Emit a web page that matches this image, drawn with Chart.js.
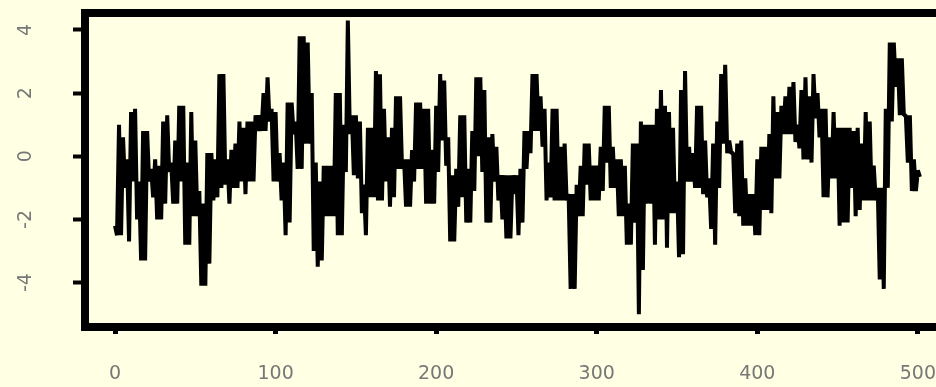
<!DOCTYPE html>
<html>
<head>
<meta charset="utf-8">
<script src="https://cdn.jsdelivr.net/npm/chart.js@4/dist/chart.umd.min.js"></script>
<style>
    html, body { margin: 0; padding: 0; overflow: hidden; background: #FFFFE4; }
    canvas { display: block; }
</style>
</head>
<body>
<canvas id="series" width="960" height="387"></canvas>
<script>
// values: high then low of the trace in each screen column
// (a column is 2.5 steps of the index wide, so two readings per column)
const seriesValues = [
    -2.2, -2.5, 1.0, -2.5, 0.6, -1.0, -0.1, -2.7, 1.4, -0.8,
    1.5, -2.0, -0.8, -3.3, 0.8, -3.3, 0.8, -0.8, -0.4, -1.3,
    -0.1, -2.0, -0.3, -2.0, 1.1, -1.5, 1.3, -0.5, -0.2, -1.5,
    0.5, -1.5, 1.6, -0.8, 1.6, -2.8, -0.2, -2.8, 1.4, -1.9,
    0.5, -1.9, -1.1, -4.1, -1.5, -4.1, 0.1, -3.4, 0.1, -1.4,
    -0.1, -1.3, 2.6, -1.0, 2.6, -0.9, -0.1, -1.5, 0.2, -1.0,
    0.4, -1.0, 1.1, -0.8, 0.9, -1.2, 1.1, -0.8, 1.1, -0.8,
    1.3, 0.8, 1.3, 0.8, 2.0, 0.8, 2.5, 1.1, 1.5, -0.8,
    1.4, -0.8, 0.1, -1.4, -0.2, -2.5, 1.7, -2.1, 1.7, 0.7,
    1.1, -0.4, 3.8, -0.4, 3.8, 0.4, 3.6, 0.4, 2.0, -3.0,
    -0.2, -3.5, -0.8, -3.3, -0.3, -1.9, -0.3, -1.9, -0.3, -1.9,
    2.0, -2.5, 2.0, -2.5, 1.0, -0.5, 4.3, 0.7, 1.3, -0.6,
    1.3, -0.7, 1.1, -1.8, -0.9, -2.5, 0.9, -1.3, 0.9, -1.3,
    2.7, -1.4, 2.6, -1.4, 1.5, -0.8, 0.6, -1.6, 0.9, -1.3,
    1.9, -0.4, 1.9, -0.4, -0.1, -1.6, -0.1, -1.6, 0.2, -0.8,
    1.7, -0.4, 1.7, -0.4, 1.5, -1.5, 1.5, -1.5, 0.2, -1.5,
    1.6, -0.5, 2.6, 0.5, 2.4, -0.3, 0.6, -2.7, -0.6, -2.7,
    -0.4, -1.6, 1.3, -1.3, 1.3, -2.1, -0.4, -2.1, 0.8, -1.1,
    2.5, 0.0, 2.5, -0.5, 2.1, -2.1, 0.6, -2.1, 0.7, -0.8,
    0.3, -1.4, -0.6, -2.0, -0.6, -2.6, -0.6, -2.6, -0.6, -1.2,
    -0.6, -2.5, -0.4, -2.1, 0.8, -0.4, 0.8, 0.1, 2.6, 0.8,
    2.6, 0.8, 1.9, 0.3, 1.5, -1.4, -0.2, -1.3, 1.5, -1.4,
    1.5, -1.4, 0.3, -1.4, 0.4, -1.4, -1.2, -4.2, -1.2, -4.2,
    -0.9, -1.9, -0.3, -1.9, 0.4, -0.9, 0.4, -1.4, -0.3, -1.4,
    -0.3, -1.4, 0.3, -1.1, 1.6, -0.2, 1.6, -1.0, 0.3, -1.0,
    -0.1, -1.9, -0.1, -1.9, -0.3, -2.8, -1.5, -2.8, 0.4, -2.1,
    0.4, -5.0, 1.1, -3.6, 1.0, -1.5, 1.0, -1.5, 1.0, -2.8,
    1.5, -2.0, 2.1, -2.0, 1.6, -2.9, 1.4, -1.8, 0.9, -1.8,
    -0.8, -3.2, 2.1, -3.1, 2.7, -0.8, 0.3, -0.8, 0.1, -1.0,
    1.6, -1.0, 1.6, -1.2, 0.5, -1.3, -0.7, -2.3, 0.4, -2.8,
    1.1, -1.0, 2.6, 0.4, 2.9, 0.1, 0.5, 0.1, 0.1, -1.8,
    0.4, -1.9, 0.5, -2.2, -0.7, -2.2, -1.2, -2.2, -1.2, -2.5,
    -0.1, -2.5, 0.3, -1.7, 0.3, -1.7, 0.7, -1.8, 1.9, -0.7,
    1.4, -0.7, 1.6, 0.7, 1.9, 0.7, 2.2, 0.7, 2.35, 0.45,
    1.0, 0.25, 2.1, -0.1, 2.5, -0.1, 1.9, -0.2, 2.6, 1.2,
    2.0, 0.6, 1.5, -1.3, 1.5, -1.3, 0.6, -0.7, 1.4, -0.7,
    0.9, -2.2, 0.9, -2.1, 0.9, -2.1, 0.9, -1.0, 0.8, -1.9,
    0.9, -1.7, 0.4, -1.4, 1.4, -1.4, 1.1, -1.4, -0.3, -1.4,
    -1.0, -3.9, -1.0, -4.2, 1.5, -1.0, 3.6, 1.1, 3.6, 2.2,
    3.1, 1.3, 3.1, 1.3, 1.3, -0.2, 1.3, -1.1, -0.1, -1.1,
    -0.45, -0.65
];
const sampleStep = 1.25;
const xTicks = [0, 100, 200, 300, 400, 500];
const yTicks = [-4, -2, 0, 2, 4];

const points = seriesValues.map((v, i) => ({ x: i * sampleStep, y: v }));

// R style box round the plot region plus the axis labels
const frame = {
    id: 'frame',
    afterDraw(chart) {
        const ctx = chart.ctx;
        const a = chart.chartArea;
        ctx.save();
        ctx.strokeStyle = '#000';
        ctx.lineWidth = 8;
        ctx.strokeRect(a.left - 4, a.top - 4, a.right - a.left + 8, a.bottom - a.top + 8);

        ctx.fillStyle = '#777';
        ctx.font = '19px "DejaVu Sans"';
        ctx.textAlign = 'center';
        ctx.textBaseline = 'middle';
        for (let v of xTicks) {
            ctx.fillText(String(v), chart.scales.x.getPixelForValue(v), 374);
        }
        for (let v of yTicks) {
            ctx.save();
            ctx.translate(26, chart.scales.y.getPixelForValue(v));
            ctx.rotate(-Math.PI / 2);
            ctx.fillText(String(v), 0, 0);
            ctx.restore();
        }
        ctx.restore();
    }
};

new Chart(document.getElementById('series'), {
    type: 'line',
    data: {
        datasets: [{
            data: points,
            borderColor: '#000',
            borderWidth: 4,
            borderJoinStyle: 'bevel',
            pointRadius: 0,
            tension: 0,
            fill: false
        }]
    },
    options: {
        responsive: false,
        animation: false,
        events: [],
        layout: { padding: { top: 17, right: 10, left: 0, bottom: 0 } },
        plugins: { legend: { display: false }, tooltip: { enabled: false } },
        scales: {
            x: {
                type: 'linear',
                min: -16.2,
                max: 520,
                afterBuildTicks: s => { s.ticks = xTicks.map(v => ({ value: v })); },
                afterFit: s => { s.height = 64; },
                ticks: { display: false },
                border: { display: false },
                grid: { drawOnChartArea: false, tickLength: 11, tickWidth: 5, color: '#000' }
            },
            y: {
                type: 'linear',
                min: -5.28,
                max: 4.41,
                afterBuildTicks: s => { s.ticks = yTicks.map(v => ({ value: v })); },
                afterFit: s => { s.width = 89; },
                ticks: { display: false },
                border: { display: false },
                grid: { drawOnChartArea: false, tickLength: 16, tickWidth: 4, color: '#000' }
            }
        }
    },
    plugins: [frame]
});
</script>
</body>
</html>
